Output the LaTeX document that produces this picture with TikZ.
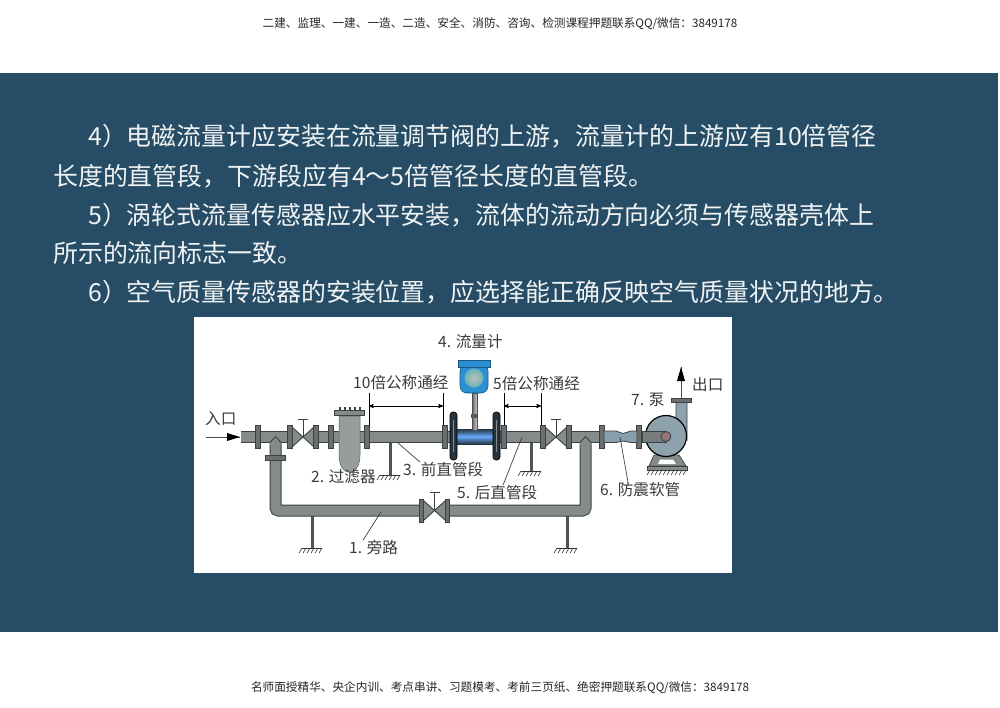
\documentclass[tikz,border=0pt]{standalone}
\usepackage{fontspec}
\setmainfont{Noto Sans CJK SC}
\usetikzlibrary{arrows}
\definecolor{bandblue}{HTML}{274D66}
\definecolor{pipegray}{HTML}{858A8B}
\definecolor{pipedark}{HTML}{3C4143}
\definecolor{hoseblue}{HTML}{87A0AE}
\definecolor{pumpblue}{HTML}{8EA2AE}
\definecolor{labelgray}{HTML}{3A3A3A}
\definecolor{meterblue}{HTML}{2B8FD3}
\definecolor{flangenavy}{HTML}{26343F}
\tikzset{
	px/.style={x=1pt,y=-1pt},
	mainline/.style={anchor=west,inner sep=0pt,text=white!93!bandblue,font=\fontsize{24.9}{26}\selectfont,text height=21.5pt,text depth=3pt},
	edgeline/.style={anchor=center,inner sep=0pt,text=black!85,font=\fontsize{11.65}{13}\selectfont,text height=10pt,text depth=1.4pt},
	lb/.style={anchor=west,inner sep=0pt,text=labelgray,font=\fontsize{15.6}{17}\selectfont,text height=13.4pt,text depth=1.9pt},
	pipe/.style={draw=pipedark,line width=1pt,double=pipegray,double distance=10pt},
	flangebox/.style={draw=pipedark,fill=pipegray!80!black,line width=.8pt,minimum width=4.5pt,minimum height=23pt,inner sep=0pt},
	support/.style={draw=pipedark!90,line width=3pt},
	leader/.style={draw=pipedark,line width=.7pt},
	dimline/.style={draw=black,line width=.7pt},
	dimarrow/.style={draw=black,line width=.7pt,stealth'-stealth'}
}
\newcommand{\groundmark}[3]{
	\draw [line width=1pt,black!80] (#1-#3,#2) -- (#1+#3,#2);
	\foreach \hx in {0,...,5}
		\draw [line width=.6pt,black!80] (#1-#3+\hx*#3/2.5,#2) -- ++(-3,5);
}
\newcommand{\pipevalve}[2]{
	\fill [white] (#1-13,#2-9) rectangle (#1+13,#2+9);
	\draw [fill=pipegray,draw=pipedark,line width=.9pt] (#1-11,#2-10) -- (#1,#2) -- (#1-11,#2+10) -- cycle;
	\draw [fill=pipegray,draw=pipedark,line width=.9pt] (#1+11,#2-10) -- (#1,#2) -- (#1+11,#2+10) -- cycle;
	\draw [line width=.8pt,pipedark] (#1,#2) -- (#1,#2-18) (#1-5,#2-18) -- (#1+5,#2-18);
	\node [flangebox] (vl#1) at (#1-13,#2) {};
	\node [flangebox] (vr#1) at (#1+13,#2) {};
}
\begin{document}
\begin{tikzpicture}[px]
	\useasboundingbox (0,0) rectangle (1000,707);
	\fill [white] (0,0) rectangle (1000,707);
	\fill [bandblue] (0,73) rectangle (998,632);
	\node [edgeline] (hd) at (500,23) {二建、监理、一建、一造、二造、安全、消防、咨询、检测课程押题联系QQ/微信：3849178};
	\node [edgeline] (ft) at (500,687) {名师面授精华、央企内训、考点串讲、习题模考、考前三页纸、绝密押题联系QQ/微信：3849178};
	\node [mainline] (t1) at (88,136) {4）电磁流量计应安装在流量调节阀的上游，流量计的上游应有10倍管径};
	\node [mainline] (t2) at (53,176) {长度的直管段，下游段应有4～5倍管径长度的直管段。};
	\node [mainline] (t3) at (88,215) {5）涡轮式流量传感器应水平安装，流体的流动方向必须与传感器壳体上};
	\node [mainline] (t4) at (53,253) {所示的流向标志一致。};
	\node [mainline] (t5) at (88,292) {6）空气质量传感器的安装位置，应选择能正确反映空气质量状况的地方。};
	\fill [white] (194,317) rectangle (732,573);

	\coordinate (s1) at (390,442);
	\coordinate (g1) at (390,475);
	\coordinate (s2) at (531,442);
	\coordinate (g2) at (531,471);
	\coordinate (s3) at (312,516);
	\coordinate (g3) at (312,548);
	\coordinate (s4) at (567,516);
	\coordinate (g4) at (567,548);
	\draw [support] (s1) -- (g1);
	\draw [support] (s2) -- (g2);
	\draw [support] (s3) -- (g3);
	\draw [support] (s4) -- (g4);
	\groundmark{390}{475}{10}
	\groundmark{531}{471}{10}
	\groundmark{312}{548}{10}
	\groundmark{567}{548}{10}

	\coordinate (b1) at (275.5,437);
	\coordinate (b2) at (275.5,510.5);
	\coordinate (b3) at (585.5,510.5);
	\coordinate (b4) at (585.5,437);
	\draw [pipe,rounded corners=3pt] (b1) -- (b2) -- (b3) -- (b4);
	\coordinate (p1) at (241,437);
	\coordinate (p2) at (604,437);
	\draw [pipe] (p1) -- (p2);
	\draw [fill=pipegray,draw=none] (270,445) -- (270,442) -- (275.5,437) -- (281,442) -- (281,445) -- cycle;
	\draw [pipedark,line width=.9pt] (270,442.5) -- (275.5,436.5) -- (281,442.5);
	\draw [fill=pipegray,draw=none] (580,445) -- (580,442) -- (585.5,437) -- (591,442) -- (591,445) -- cycle;
	\draw [pipedark,line width=.9pt] (580,442.5) -- (585.5,436.5) -- (591,442.5);
	\node [flangebox,minimum width=20pt,minimum height=5pt] (f0) at (275.5,458) {};

	\foreach \fx in {258,331,367,445,504,602,639}
		\node [flangebox] (f\fx) at (\fx,437) {};
	\pipevalve{303}{437}
	\pipevalve{556}{437}
	\pipevalve{434.5}{510.5}

	% filter
	\draw [fill=pipegray!85!white,draw=pipegray!70!black,line width=.5pt] (339,416) -- (339,455) .. controls (339,478) and (360,478) .. (360,455) -- (360,416) -- cycle;
	\foreach \bx in {339,344,...,359}
		\fill [pipedark] (\bx-.5,407) rectangle (\bx+1.5,411);
	\draw [fill=pipegray,draw=pipedark,line width=.8pt] (334,410) rectangle (364,415.5);

	% hose
	\draw [fill=hoseblue,draw=pipedark,line width=.8pt] (604,431) -- (616,431) .. controls (619,431) and (620,433.5) .. (623,433.5) .. controls (626,433.5) and (628,431) .. (631,431) -- (637,431) -- (637,442.5) -- (631,442.5) .. controls (628,442.5) and (626,441) .. (623,441) .. controls (620,441) and (619,442.5) .. (616,442.5) -- (604,442.5) -- cycle;

	% pump
	\draw [fill=pipegray,draw=pipedark,line width=.7pt] (654,455) -- (649,466) -- (686,466) -- (679,455) -- cycle;
	\fill [white] (660,459.5) -- (658,464) -- (676,464) -- (673,459.5) -- cycle;
	\draw [fill=pipegray,draw=pipedark,line width=.7pt] (647,466) rectangle (687,470);
	\foreach \hx in {0,...,9}
		\draw [line width=.6pt,black!80] (650+\hx*4,470) -- ++(-3,5);
	\draw [fill=pumpblue,draw=pipedark,line width=.8pt] (676,402) -- (676,425) -- (687,440) -- (687,402) -- cycle;
	\draw [fill=pumpblue,draw=black,line width=1.2pt] (666,436) circle (20.5pt);
	\draw [fill=pipegray!90!black,draw=pipedark,line width=.8pt] (642,431) -- (666,431) -- (666,442) -- (642,442) -- cycle;
	\node [circle,draw=pipedark,fill=pipegray!85!red,line width=.8pt,minimum size=10pt,inner sep=0pt] (eye) at (666,436.5) {};
	\node [flangebox,minimum width=20pt,minimum height=4pt] (f1) at (681,400) {};

	% meter
	\shade [top color=flangenavy,bottom color=flangenavy,middle color=cyan!45!blue!60!white] (455,429) rectangle (494,444);
	\shade [left color=black!60,right color=black!20] (472,393) rectangle (477,430);
	\draw [black!70,line width=.6pt] (472,393) rectangle (477,430);
	\fill [black!65] (471,414) rectangle (478,418);
	\draw [fill=flangenavy,draw=black,line width=.6pt,rounded corners=3pt] (450,412) rectangle (457,460);
	\draw [fill=flangenavy,draw=black,line width=.6pt,rounded corners=3pt] (493,412) rectangle (500,460);
	\fill [black!45] (452.5,420) rectangle (454,452);
	\fill [black!45] (495.5,420) rectangle (497,452);
	\draw [fill=meterblue,draw=meterblue!60!black,line width=.6pt,rounded corners=7pt] (460,364) rectangle (488,393);
	\draw [fill=meterblue,draw=meterblue!60!black,line width=.6pt] (458,360) -- (490,360) -- (490,367) -- (458,367) -- cycle;
	\shade [inner color=black!25,outer color=black!50!cyan!60] (474,378) circle (9.5pt);

	% outlet and inlet
	\coordinate (o1) at (681,398);
	\coordinate (o2) at (681,367);
	\draw [draw=black!70,line width=.7pt] (o1) -- (o2);
	\fill [black] (681,367) -- (685,381) -- (677,381) -- cycle;
	\coordinate (i1) at (206,437);
	\coordinate (i2) at (240,437);
	\draw [draw=black!70,line width=.7pt] (i1) -- (i2);
	\fill [black] (240,437) -- (227,433) -- (227,441) -- cycle;

	% dimensions
	\coordinate (d1) at (369,393);
	\coordinate (d2) at (369,425);
	\coordinate (d3) at (443,393);
	\coordinate (d4) at (443,425);
	\coordinate (d5) at (504,393);
	\coordinate (d6) at (504,425);
	\coordinate (d7) at (541,393);
	\coordinate (d8) at (541,425);
	\coordinate (a1) at (369,406);
	\coordinate (a2) at (443,406);
	\coordinate (a3) at (504,406);
	\coordinate (a4) at (541,406);
	\draw [dimline] (d1) -- (d2);
	\draw [dimline] (d3) -- (d4);
	\draw [dimline] (d5) -- (d6);
	\draw [dimline] (d7) -- (d8);
	\draw [dimarrow] (a1) -- (a2);
	\draw [dimarrow] (a3) -- (a4);

	\node [lb] (lbin) at (205,419) {入口};
	\node [lb] (lbout) at (692,385) {出口};
	\node [lb] (lb1) at (349,548) {1. 旁路};
	\node [lb] (lb2) at (311,477) {2. 过滤器};
	\node [lb] (lb3) at (403,470) {3. 前直管段};
	\node [lb] (lb4) at (438,342) {4. 流量计};
	\node [lb] (lb5) at (457,493) {5. 后直管段};
	\node [lb] (lb6) at (600,490) {6. 防震软管};
	\node [lb] (lb7) at (631,400) {7. 泵};
	\node [lb] (lbd1) at (353,383) {10倍公称通经};
	\node [lb] (lbd2) at (493,384) {5倍公称通经};

	\coordinate (c1) at (381,512);
	\coordinate (c3) at (398,443);
	\coordinate (c5) at (522,437);
	\coordinate (c6) at (620,437);
	\draw [leader] (c1) -- ([xshift=14pt]lb1.north west);
	\draw [leader] (c3) -- ([xshift=17pt]lb3.north west);
	\draw [leader] (c5) -- ([xshift=46pt]lb5.north west);
	\draw [leader] (c6) -- ([xshift=28pt]lb6.north west);
\end{tikzpicture}
\end{document}
